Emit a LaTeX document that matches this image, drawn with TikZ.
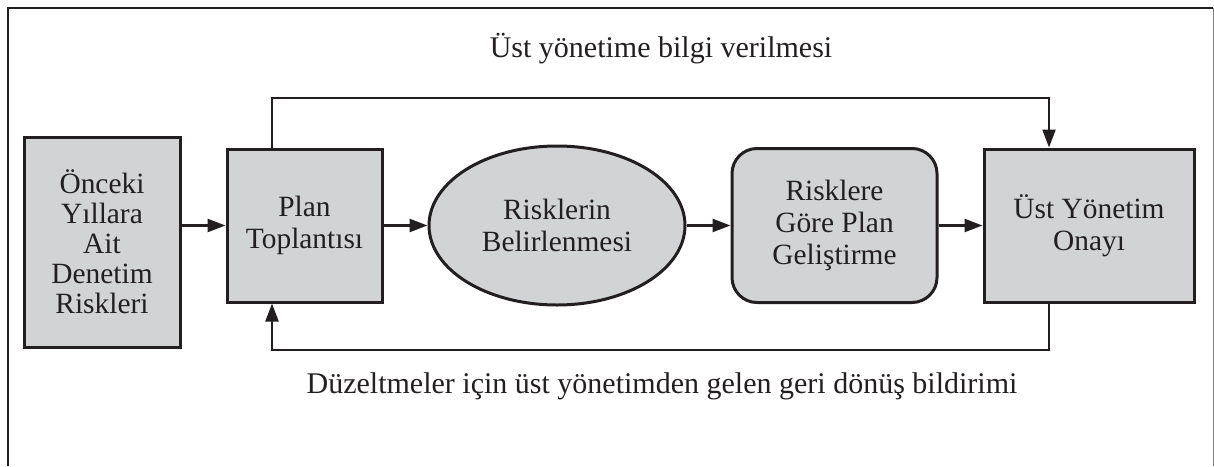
\documentclass[tikz,border=0pt]{standalone}
\usepackage{fontspec}
\setmainfont{Liberation Serif}
\usetikzlibrary{shapes.geometric,arrows.meta}
\definecolor{boxfill}{RGB}{209,211,212}
\definecolor{ink}{RGB}{35,31,32}
\begin{document}
\begin{tikzpicture}[x=0.5pt,y=-0.5pt,
  box/.style={draw=ink,fill=boxfill,line width=1.5pt,inner sep=0pt,align=center,font=\fontsize{14.7}{16}\selectfont,text=ink},
  conn/.style={draw=ink,line width=1.2pt},
  arr/.style={conn,-{Triangle[length=9pt,width=6.5pt]}},
  lbl/.style={font=\fontsize{15}{17}\selectfont,text=ink,inner sep=0pt}]
\useasboundingbox (0,0) rectangle (1214,466);
% frame (open at the bottom)
\draw[ink,line width=1.2pt] (8,466) -- (8,8) -- (1213,8);
\draw[gray,line width=0.5pt] (1213,8) -- (1213,466);
% nodes
\node[box,font=\fontsize{14.7}{15}\selectfont,minimum width=78pt,minimum height=105pt] (prev) at (102,242) {Önceki\\Yıllara\\Ait\\Denetim\\Riskleri};
\node[box,minimum width=77.5pt,minimum height=76.5pt] (plan) at (304.5,225.5) {Plan\\Toplantısı};
\node[box,ellipse,minimum width=128pt,minimum height=79.5pt] (risk) at (557,225.5) {Risklerin\\Belirlenmesi};
\node[box,rounded corners=12.5pt,minimum width=102.5pt,minimum height=77pt] (dev) at (834.5,225.5) {Risklere\\Göre Plan\\Geliştirme};
\node[box,minimum width=105pt,minimum height=76.5pt] (appr) at (1089,225.5) {Üst Yönetim\\Onayı};
% main flow
\draw[arr] (prev.east |- plan.west) -- (plan.west);
\draw[arr] (plan.east) -- (risk.west);
\draw[arr] (risk.east) -- (dev.west);
\draw[arr] (dev.east) -- (appr.west);
% top loop
\coordinate (tl) at (272,98);
\coordinate (tr) at (1049,98);
\draw[arr] (plan.north -| tl) -- (tl) -- (tr) -- (appr.north -| tr);
% bottom loop
\coordinate (br) at (1049,350);
\coordinate (bl) at (272,350);
\draw[arr] (appr.south -| br) -- (br) -- (bl) -- (plan.south -| bl);
% labels
\node[lbl,anchor=base] (toplbl) at (661,57) {Üst yönetime bilgi verilmesi};
\node[lbl,anchor=base] (botlbl) at (662,393) {Düzeltmeler için üst yönetimden gelen geri dönüş bildirimi};
\end{tikzpicture}
\end{document}
